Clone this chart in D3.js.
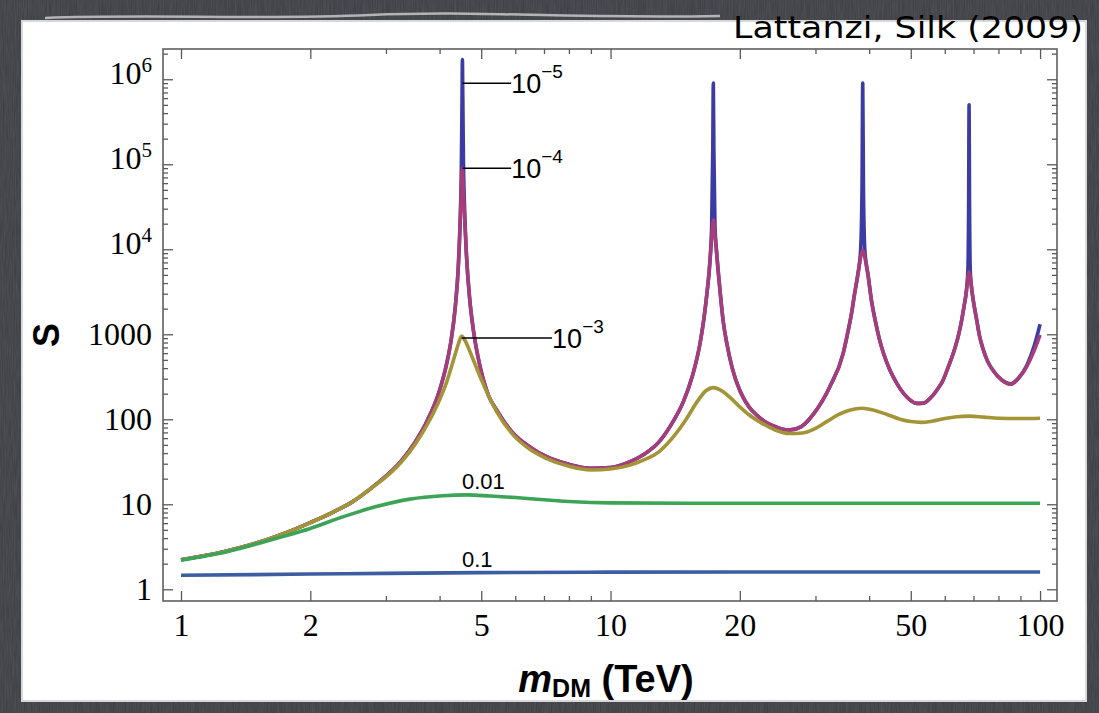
<!DOCTYPE html>
<html><head><meta charset="utf-8">
<script src="https://cdn.jsdelivr.net/npm/d3@7"></script>
<style>body{margin:0;background:#3c3d41;} svg{display:block}</style>
</head><body>
<svg id="c" width="1099" height="713"></svg>
<script>
// ---------- data (m_DM in TeV, S) ----------
const curve1e5 = [[1,2.23],[1.25,2.75],[1.5,3.5],[1.75,4.6],[2,6.1],[2.25,8.0],[2.5,10.6],[2.75,15],[3,21.5],[3.25,32],[3.5,53],[3.75,98],[4,220],[4.15,440],[4.25,820],[4.35,2080],[4.42,6000],[4.47,24000],[4.495,96000],[4.51,500000],[4.52,1700000],[4.53,600000],[4.545,110000],[4.57,34000],[4.62,8400],[4.7,2600],[4.8,1070],[4.97,415],[5.2,190],[5.43,129],[5.94,68],[6.5,47],[7.1,36.3],[8,29.5],[9,26.5],[10,27],[11,31],[12,39],[13,55],[14,95],[14.77,160],[15.5,320],[16.16,784],[16.5,1540],[16.75,2900],[17.05,7600],[17.2,20000],[17.3,150000],[17.35,900000],[17.4,150000],[17.5,20000],[17.68,8600],[17.98,3300],[18.3,1400],[18.65,784],[19.2,400],[20.02,215],[21,140],[21.9,112],[23,92],[23.9,84],[25,77],[26.2,75],[27.8,82],[29.7,116],[32.4,242],[34.8,597],[35.6,1000],[36.4,1766],[37,3000],[37.6,4900],[38.2,9500],[38.5,50000],[38.65,900000],[38.8,50000],[39.1,9500],[39.8,4900],[40.5,2500],[41.3,1473],[42.2,900],[43.2,597],[44.7,380],[46.4,265],[48.9,184],[51.6,154],[53.5,155],[55.5,177],[57.5,220],[59.5,290],[61,400],[62.8,597],[64.5,950],[65.7,1473],[66.6,2200],[67.3,3100],[67.9,5500],[68.2,40000],[68.35,500000],[68.5,40000],[68.8,5500],[69.5,3100],[70.3,2100],[71.2,1473],[72.3,950],[73.8,653],[75.5,480],[77.9,370],[81.5,290],[85.5,262],[89,305],[93.1,430],[97,740],[100,1312]];
const curve1e4 = [[1,2.23],[1.25,2.75],[1.5,3.5],[1.75,4.6],[2,6.1],[2.25,8.0],[2.5,10.6],[2.75,15],[3,21.5],[3.25,32],[3.5,53],[3.75,98],[4,220],[4.15,440],[4.25,820],[4.35,2080],[4.42,6000],[4.47,24000],[4.495,55000],[4.52,89700],[4.545,45000],[4.57,25000],[4.62,8400],[4.7,2600],[4.8,1070],[4.97,415],[5.2,190],[5.43,129],[5.94,68],[6.5,47],[7.1,36.3],[8,29.5],[9,26.5],[10,27],[11,31],[12,39],[13,55],[14,95],[14.77,160],[15.5,320],[16.16,784],[16.5,1540],[16.75,2900],[17.05,7500],[17.2,14000],[17.35,22100],[17.5,15000],[17.68,8500],[17.98,3300],[18.3,1400],[18.65,784],[19.2,400],[20.02,215],[21,140],[21.9,112],[23,92],[23.9,84],[25,77],[26.2,75],[27.8,82],[29.7,116],[32.4,242],[34.8,597],[35.6,1000],[36.4,1766],[37,3000],[37.6,4760],[38.2,8000],[38.65,9815],[39.1,8000],[39.8,4760],[40.5,2500],[41.3,1473],[42.2,900],[43.2,597],[44.7,380],[46.4,265],[48.9,184],[51.6,154],[53.5,155],[55.5,177],[57.5,220],[59.5,290],[61,400],[62.8,597],[64.5,950],[65.7,1473],[66.6,2200],[67.3,3040],[67.9,4700],[68.35,5450],[68.8,4700],[69.5,3040],[70.3,2100],[71.2,1473],[72.3,950],[73.8,653],[75.5,480],[77.9,370],[81.5,288],[85.5,258],[89,300],[93.1,416],[97,650],[100,982]];
const curve1e3 = [[1,2.23],[1.25,2.75],[1.5,3.5],[1.75,4.6],[2,6.1],[2.25,8.0],[2.5,10.6],[2.75,15],[3,21],[3.25,31],[3.5,50],[3.75,88],[4,170],[4.15,270],[4.3,480],[4.42,760],[4.5,950],[4.58,850],[4.71,620],[4.97,317],[5.2,190],[5.43,123],[5.94,65],[6.5,44],[7.1,34.5],[8,28],[9,25.3],[10,26],[11,28.5],[12,33.5],[13,42],[14,62],[15,100],[16,168],[16.7,218],[17.35,236],[18,222],[19,180],[20,140],[21,113],[22.5,90],[24,76],[26,68],[28,69],[30,78],[32,95],[34,114],[36,128],[38.5,135],[41,128],[44,114],[47,101],[50,94],[53,92],[56,95],[60,102],[64,107],[68.4,109],[74,106],[80,103],[90,102],[100,103]];
const curve1e2 = [[1,2.2],[1.28,2.77],[1.67,3.98],[2,5.2],[2.39,7.15],[2.85,9.4],[3.41,11.5],[4.07,12.6],[4.63,12.9],[5.25,12.5],[6,12.0],[7,11.3],[8,10.8],[10,10.4],[15,10.3],[30,10.3],[100,10.3]];
const curve1e1 = [[1,1.46],[2,1.51],[3,1.54],[5,1.57],[10,1.59],[20,1.6],[50,1.6],[100,1.6]];

const xMajorTicks = [1,2,5,10,20,50,100];
const xMinorTicks = [3,4,6,7,8,9,30,40,60,70,80,90];
const yMajorTicks = [1,10,100,1000,1e4,1e5,1e6];
const yMinorTicks = [];
for (let e=0;e<=6;e++) for (let k=2;k<=9;k++) yMinorTicks.push(k*Math.pow(10,e));

// curve label annotations
const leaderLabels = [
  {base:"10", exp:"\u22125", m0:4.52, S:9e5, m1:5.87},
  {base:"10", exp:"\u22124", m0:4.52, S:9e4, m1:5.87},
  {base:"10", exp:"\u22123", m0:4.5, S:904, m1:7.31}
];
const plainLabels = [
  {text:"0.01", m:4.51, S:15.1},
  {text:"0.1", m:4.51, S:1.83}
];

const series = [
  {data:curve1e5, color:"#3b3ba3"},
  {data:curve1e4, color:"#a53d7b"},
  {data:curve1e3, color:"#a39537"},
  {data:curve1e2, color:"#3da356"},
  {data:curve1e1, color:"#3c5da1"}
];

// ---------- layout ----------
const W=1099, H=713;
const L=163, R=1057, T=49, B=601;
const svg = d3.select("#c");

const defs = svg.append("defs");
const f = defs.append("filter").attr("id","noise").attr("x",0).attr("y",0).attr("width","100%").attr("height","100%");
f.append("feTurbulence").attr("type","fractalNoise").attr("baseFrequency","0.9 0.05").attr("numOctaves",2).attr("seed",3);
f.append("feColorMatrix").attr("type","matrix").attr("values","0 0 0 0 0.85  0 0 0 0 0.85  0 0 0 0 0.9  0 0 0 0.35 0");
defs.append("clipPath").attr("id","clip").append("rect").attr("x",L).attr("y",T).attr("width",R-L).attr("height",B-T);

svg.append("rect").attr("width",W).attr("height",H).attr("fill","#3c3d42");
svg.append("rect").attr("width",W).attr("height",H).attr("filter","url(#noise)").attr("opacity",0.35);

// white panel
svg.append("rect").attr("x",22).attr("y",21).attr("width",1064).attr("height",680).attr("fill","#ffffff")
  .attr("stroke","#d8d8d8").attr("stroke-width",2);
svg.append("path").attr("d","M45,18 C150,14 260,20 370,15 S560,19 720,16").attr("fill","none").attr("stroke","#d0d0d0").attr("stroke-width",2.5).attr("opacity",0.8);

const x = d3.scaleLog().domain([0.908,109.5]).range([L,R]);
const y = d3.scaleLog().domain([0.728,2.27e6]).range([B,T]);

svg.append("rect").attr("x",L).attr("y",T).attr("width",R-L).attr("height",B-T)
  .attr("fill","none").attr("stroke","#606060").attr("stroke-width",1.6);

const tickCol="#5a5a5a";
function styleAxis(g){ g.select(".domain").remove(); g.selectAll(".tick line").attr("stroke",tickCol).attr("stroke-width",1.3); }
const serif="Liberation Serif, Times New Roman, serif";

svg.append("g").attr("transform",`translate(0,${B})`)
  .call(d3.axisBottom(x).tickValues(xMajorTicks).tickSize(-10).tickPadding(12).tickFormat(d3.format("d")))
  .call(styleAxis)
  .call(g=>g.selectAll("text").attr("font-family",serif).attr("font-size",32).attr("fill","#000"));
svg.append("g").attr("transform",`translate(0,${B})`)
  .call(d3.axisBottom(x).tickValues(xMinorTicks).tickSize(-5).tickFormat("")).call(styleAxis);
svg.append("g").attr("transform",`translate(0,${T})`)
  .call(d3.axisTop(x).tickValues(xMajorTicks).tickSize(-10).tickFormat("")).call(styleAxis);
svg.append("g").attr("transform",`translate(0,${T})`)
  .call(d3.axisTop(x).tickValues(xMinorTicks).tickSize(-5).tickFormat("")).call(styleAxis);

const yl = svg.append("g").attr("transform",`translate(${L},0)`)
  .call(d3.axisLeft(y).tickValues(yMajorTicks).tickSize(-10).tickPadding(11).tickFormat(d=>String(d)))
  .call(styleAxis);
yl.selectAll("text").attr("font-family",serif).attr("font-size",32).attr("fill","#000").attr("dy","0.33em")
  .each(function(d){
    if (d>=1e4){
      const t=d3.select(this); t.text("");
      t.append("tspan").text("10").attr("dy","0.12em");
      t.append("tspan").text(String(Math.round(Math.log10(d)))).attr("font-size",21).attr("dy","-0.55em");
    }
  });
svg.append("g").attr("transform",`translate(${L},0)`)
  .call(d3.axisLeft(y).tickValues(yMinorTicks.filter(v=>v<2.27e6)).tickSize(-5).tickFormat("")).call(styleAxis);
svg.append("g").attr("transform",`translate(${R},0)`)
  .call(d3.axisRight(y).tickValues(yMajorTicks).tickSize(-10).tickFormat("")).call(styleAxis);
svg.append("g").attr("transform",`translate(${R},0)`)
  .call(d3.axisRight(y).tickValues(yMinorTicks.filter(v=>v<2.27e6)).tickSize(-5).tickFormat("")).call(styleAxis);

const line = d3.line().x(d=>x(d[0])).y(d=>y(d[1])).curve(d3.curveMonotoneX);
const cg = svg.append("g").attr("clip-path","url(#clip)");
series.forEach(s=>{
  cg.append("path").datum(s.data).attr("d",line).attr("fill","none")
    .attr("stroke",s.color).attr("stroke-width",3.6).attr("stroke-linejoin","round").attr("stroke-linecap","butt");
});

const labFont="Liberation Sans, Arial, Helvetica, sans-serif";
leaderLabels.forEach(a=>{
  svg.append("line").attr("x1",x(a.m0)).attr("x2",x(a.m1)).attr("y1",y(a.S)).attr("y2",y(a.S))
    .attr("stroke","#000").attr("stroke-width",1.5);
  const t=svg.append("text").attr("x",x(a.m1)).attr("y",y(a.S)).attr("dy","0.36em")
    .attr("font-family",labFont).attr("font-size",27).attr("fill","#000");
  t.append("tspan").text(a.base);
  t.append("tspan").text(a.exp).attr("font-size",19).attr("dy","-0.8em");
});
plainLabels.forEach(a=>{
  svg.append("text").attr("x",x(a.m)).attr("y",y(a.S)).attr("font-family",labFont).attr("font-size",22).attr("fill","#000").text(a.text);
});

svg.append("text").attr("transform","translate(59,335) rotate(-90)").attr("text-anchor","middle")
  .attr("font-family",labFont).attr("font-weight","bold").attr("font-size",36).text("S");
const xt = svg.append("text").attr("x",606).attr("y",692).attr("text-anchor","middle")
  .attr("font-family",labFont).attr("font-weight","bold").attr("font-size",38);
xt.append("tspan").text("m").attr("font-style","italic");
xt.append("tspan").text("DM").attr("font-size",25).attr("dy",5);
xt.append("tspan").text(" (TeV)").attr("dy",-5);

svg.append("text").attr("x",1083).attr("y",38).attr("text-anchor","end")
  .attr("font-family","DejaVu Sans, sans-serif").attr("font-size",30).attr("fill","#000")
  .attr("textLength",350).attr("lengthAdjust","spacingAndGlyphs").text("Lattanzi, Silk (2009)");
</script>
</body></html>
